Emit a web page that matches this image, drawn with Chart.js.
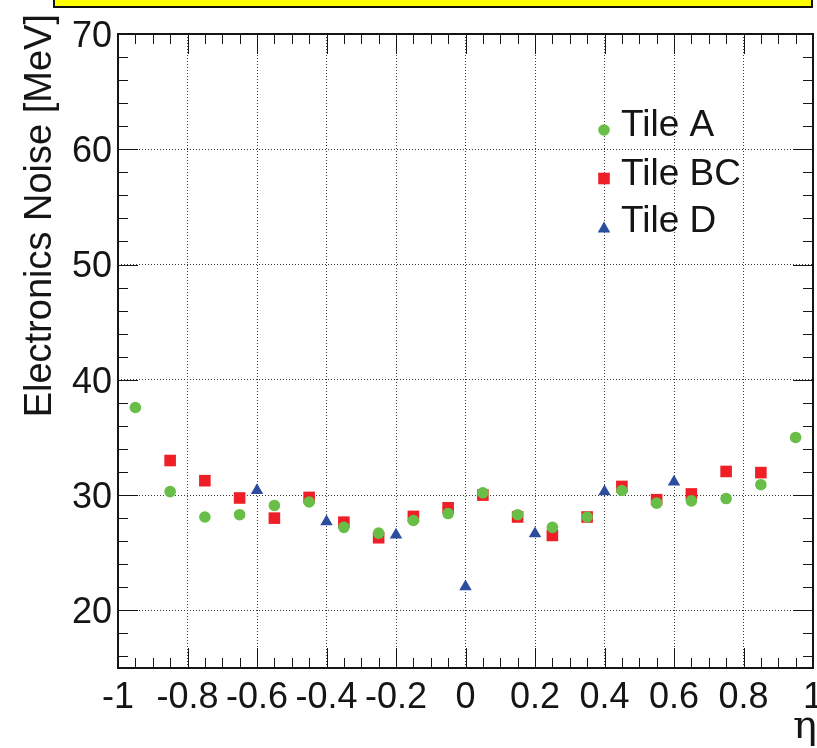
<!DOCTYPE html>
<html>
<head>
<meta charset="utf-8">
<script src="https://cdn.jsdelivr.net/npm/chart.js@4/dist/chart.umd.min.js"></script>
<style>
  html, body { margin: 0; padding: 0; background: #fff; overflow: hidden; }
  #wrap { position: relative; width: 817px; height: 748px; overflow: hidden; }
  #plot { position: absolute; left: 0; top: 0; }
  #banner { position: absolute; left: 53px; top: -6px; width: 756px; height: 10px;
            background: #ffff00; border: 2px solid #111; }
</style>
</head>
<body>
<div id="wrap">
  <canvas id="plot" width="840" height="748"></canvas>
  <div id="banner"></div>
</div>
<script>
// Electronics noise per tile layer versus eta
const etaA   = [-0.95, -0.85, -0.75, -0.65, -0.55, -0.45, -0.35, -0.25, -0.15, -0.05,
                 0.05,  0.15,  0.25,  0.35,  0.45,  0.55,  0.65,  0.75,  0.85,  0.95];
const noiseA = [37.6, 30.3, 28.1, 28.3, 29.1, 29.4, 27.2, 26.7, 27.8, 28.4,
                30.2, 28.3, 27.2, 28.1, 30.4, 29.3, 29.5, 29.7, 30.9, 35.0];

const etaBC   = [-0.85, -0.75, -0.65, -0.55, -0.45, -0.35, -0.25, -0.15, -0.05,
                  0.05,  0.15,  0.25,  0.35,  0.45,  0.55,  0.65,  0.75,  0.85];
const noiseBC = [33.0, 31.25, 29.75, 28.0, 29.8, 27.65, 26.3, 28.15, 28.9,
                 30.0, 28.1, 26.5, 28.1, 30.75, 29.6, 30.1, 32.05, 31.95];

const etaD   = [-0.6, -0.4, -0.2, 0.0, 0.2, 0.4, 0.6];
const noiseD = [30.4, 27.7, 26.55, 22.05, 26.65, 30.3, 31.15];

const seriesNames = ['Tile A', 'Tile BC', 'Tile D'];

const xTicks = [-1, -0.8, -0.6, -0.4, -0.2, 0, 0.2, 0.4, 0.6, 0.8, 1];
const yTicks = [20, 30, 40, 50, 60, 70];
const xMinorStep = 0.05;
const yMinorStep = 2;

const xTitle = 'η';
const yTitle = 'Electronics Noise [MeV]';

const FONT = '"Liberation Sans", Arial, Helvetica, sans-serif';
const INK = '#151515';

function pts(xs, ys) { return xs.map((x, i) => ({ x: x, y: ys[i] })); }

// Frame, inward tick marks, axis titles and the legend box
const decorations = {
  id: 'decorations',
  beforeDatasetsDraw(chart) {
    const ctx = chart.ctx, a = chart.chartArea;
    const xs = chart.scales.x, ys = chart.scales.y;
    ctx.save();
    ctx.strokeStyle = INK;
    ctx.lineWidth = 1;
    ctx.beginPath();
    const nX = Math.round((xs.max - xs.min) / xMinorStep);
    for (let i = 0; i <= nX; i++) {
      const v = xs.min + i * xMinorStep;
      const px = Math.round(xs.getPixelForValue(v)) + 0.5;
      const L = (i % 4 === 0) ? 20 : 10;
      ctx.moveTo(px, a.bottom); ctx.lineTo(px, a.bottom - L);
      ctx.moveTo(px, a.top);    ctx.lineTo(px, a.top + L);
    }
    for (let v = Math.ceil(ys.min / yMinorStep) * yMinorStep; v <= ys.max + 1e-9; v += yMinorStep) {
      const py = Math.round(ys.getPixelForValue(v)) + 0.5;
      const L = (v % 10 === 0) ? 20 : 10;
      ctx.moveTo(a.left, py);  ctx.lineTo(a.left + L, py);
      ctx.moveTo(a.right, py); ctx.lineTo(a.right - L, py);
    }
    ctx.stroke();
    ctx.lineWidth = 2;
    ctx.strokeRect(a.left, a.top, a.right - a.left, a.bottom - a.top);
    ctx.restore();
  },
  afterDraw(chart) {
    const ctx = chart.ctx;
    ctx.save();
    ctx.fillStyle = INK;

    // y-axis title, rotated, right-aligned at the top
    ctx.save();
    ctx.translate(51, 14);
    ctx.rotate(-Math.PI / 2);
    ctx.font = '38px ' + FONT;
    ctx.textAlign = 'right';
    ctx.textBaseline = 'alphabetic';
    ctx.fillText(yTitle, 0, 0);
    ctx.restore();

    // x-axis title
    ctx.font = '40px "DejaVu Serif", "Liberation Serif", serif';
    ctx.textAlign = 'right';
    ctx.textBaseline = 'alphabetic';
    ctx.fillText(xTitle, 817, 738);

    // legend
    const rows = [130, 178.5, 227];
    const base = [136, 185, 232];
    chart.data.datasets.forEach((ds, i) => {
      const cx = 604, cy = rows[i];
      ctx.fillStyle = ds.backgroundColor;
      ctx.beginPath();
      if (ds.pointStyle === 'circle') {
        ctx.arc(cx, cy, 5.8, 0, Math.PI * 2);
      } else if (ds.pointStyle === 'rect') {
        ctx.rect(cx - 5.8, cy - 5.8, 11.6, 11.6);
      } else {
        ctx.moveTo(cx, cy - 5.5);
        ctx.lineTo(cx + 6.3, cy + 5.5);
        ctx.lineTo(cx - 6.3, cy + 5.5);
        ctx.closePath();
      }
      ctx.fill();
      ctx.fillStyle = INK;
      ctx.font = '37px ' + FONT;
      ctx.textAlign = 'left';
      ctx.fillText(ds.label, 621, base[i]);
    });
    ctx.restore();
  }
};

const ctx = document.getElementById('plot').getContext('2d');
new Chart(ctx, {
  type: 'scatter',
  data: {
    datasets: [
      { label: seriesNames[0], data: pts(etaA, noiseA), pointStyle: 'circle',
        pointRadius: 5.8, backgroundColor: '#68be47', borderWidth: 0 },
      { label: seriesNames[1], data: pts(etaBC, noiseBC), pointStyle: 'rect',
        pointRadius: 8.2, backgroundColor: '#ee1f26', borderWidth: 0 },
      { label: seriesNames[2], data: pts(etaD, noiseD), pointStyle: 'triangle',
        pointRadius: 7.2, backgroundColor: '#2c4d9e', borderWidth: 0 }
    ]
  },
  options: {
    responsive: false,
    devicePixelRatio: 1,
    animation: false,
    events: [],
    layout: { padding: { left: 0, right: 27, top: 34, bottom: 0 } },
    plugins: { legend: { display: false }, tooltip: { enabled: false } },
    scales: {
      x: {
        type: 'linear', min: -1, max: 1,
        afterBuildTicks(scale) { scale.ticks = xTicks.map(v => ({ value: v })); },
        afterFit(scale) { scale.height = 80; },
        ticks: {
          color: INK, font: { family: FONT, size: 36 }, padding: 8,
          maxRotation: 0, autoSkip: false,
          callback: v => String(Number(v.toFixed(1)))
        },
        grid: { color: '#3a3a3a', lineWidth: 1, drawTicks: false },
        border: { display: false, dash: [1, 2] }
      },
      y: {
        type: 'linear', min: 15, max: 70,
        afterBuildTicks(scale) { scale.ticks = yTicks.map(v => ({ value: v })); },
        afterFit(scale) { scale.width = 118; scale.paddingTop = 0; scale.paddingBottom = 0; },
        ticks: {
          color: INK, font: { family: FONT, size: 36 }, padding: 6, labelOffset: 3,
          callback: v => String(v)
        },
        grid: { color: '#3a3a3a', lineWidth: 1, drawTicks: false },
        border: { display: false, dash: [1, 2] }
      }
    }
  },
  plugins: [decorations]
});
</script>
</body>
</html>
